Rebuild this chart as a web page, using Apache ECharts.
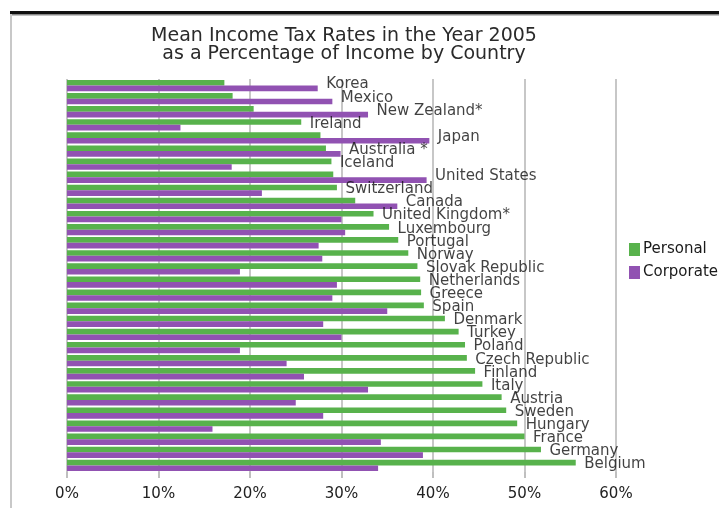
<!DOCTYPE html>
<html>
<head>
<meta charset="utf-8">
<script src="https://cdn.jsdelivr.net/npm/echarts@6/dist/echarts.min.js"></script>
<style>html,body{margin:0;padding:0;background:#fff;}#c{width:719px;height:508px;}</style>
</head>
<body>
<div id="c"></div>
<script>
const countries = ['Korea','Mexico','New Zealand*','Ireland','Japan','Australia *','Iceland','United States','Switzerland','Canada','United Kingdom*','Luxembourg','Portugal','Norway','Slovak Republic','Netherlands','Greece','Spain','Denmark','Turkey','Poland','Czech Republic','Finland','Italy','Austria','Sweden','Hungary','France','Germany','Belgium'];
const personal = [17.2,18.1,20.4,25.6,27.7,28.3,28.9,29.1,29.5,31.5,33.5,35.2,36.2,37.3,38.3,38.6,38.7,39.0,41.3,42.8,43.5,43.7,44.6,45.4,47.5,48.0,49.2,50.0,51.8,55.6];
const corporate = [27.4,29.0,32.9,12.4,39.6,29.9,18.0,39.3,21.3,36.1,30.0,30.4,27.5,27.9,18.9,29.5,29.0,35.0,28.0,30.0,18.9,24.0,25.9,32.9,25.0,28.0,15.9,34.3,38.9,34.0];
const tickLabels = ['0%','10%','20%','30%','40%','50%','60%'];

const labelPos = countries.map((c, i) => [Math.max(personal[i], corporate[i]), i]);
const font = 'DejaVu Sans';
const chart = echarts.init(document.getElementById('c'));
chart.setOption({
  backgroundColor: '#fff',
  animation: false,
  textStyle: { fontFamily: font },
  title: {
    text: 'Mean Income Tax Rates in the Year 2005\nas a Percentage of Income by Country',
    left: 339, top: 22, textAlign: 'center',
    textStyle: { fontFamily: font, fontSize: 19, fontWeight: 'normal', color: '#2a2a2a', lineHeight: 18 }
  },
  legend: {
    data: ['Personal', 'Corporate'],
    orient: 'vertical', left: 624, top: 237,
    itemWidth: 11, itemHeight: 13, itemGap: 8, icon: 'rect',
    textStyle: { fontFamily: font, fontSize: 15, color: '#1a1a1a', padding: [0, 0, 0, -2] }
  },
  grid: { left: 67, right: 103, top: 79, bottom: 36, containLabel: false },
  xAxis: {
    type: 'value', min: 0, max: 60, interval: 10,
    axisLine: { show: false },
    axisTick: { show: true, length: 6, lineStyle: { color: '#aaa', width: 1.5 } },
    splitLine: { show: true, lineStyle: { color: '#b5b5b5', width: 1.5 } },
    axisLabel: { fontFamily: font, fontSize: 15, color: '#222', margin: 15,
      formatter: v => tickLabels[Math.round(v / 10)] }
  },
  yAxis: {
    type: 'category', data: countries, inverse: true,
    axisLine: { show: false }, axisTick: { show: false }, axisLabel: { show: false },
    splitLine: { show: false }
  },
  graphic: [
    { type: 'rect', shape: { x: 10, y: 11, width: 709, height: 3 }, style: { fill: '#111' }, z: 100 },
    { type: 'rect', shape: { x: 10, y: 14, width: 709, height: 1.5 }, style: { fill: '#888' }, z: 100 },
    { type: 'rect', shape: { x: 10, y: 14, width: 2, height: 494 }, style: { fill: '#c8c8c8' }, z: 100 }
  ],
  series: [
    { name: 'Personal', type: 'bar', data: personal, barGap: '0%', barCategoryGap: '14%',
      itemStyle: { color: '#58b24c' }, silent: true },
    { name: 'Corporate', type: 'bar', data: corporate,
      itemStyle: { color: '#9152b2' }, silent: true },
    { name: 'labels', type: 'scatter', data: labelPos, symbolSize: 1, silent: true,
      itemStyle: { color: 'rgba(0,0,0,0)' }, z: 5,
      label: { show: true, position: 'right', distance: 8, offset: [0, -1],
        formatter: p => countries[p.dataIndex],
        fontFamily: font, fontSize: 15, color: '#111' } }
  ]
});
</script>
</body>
</html>
